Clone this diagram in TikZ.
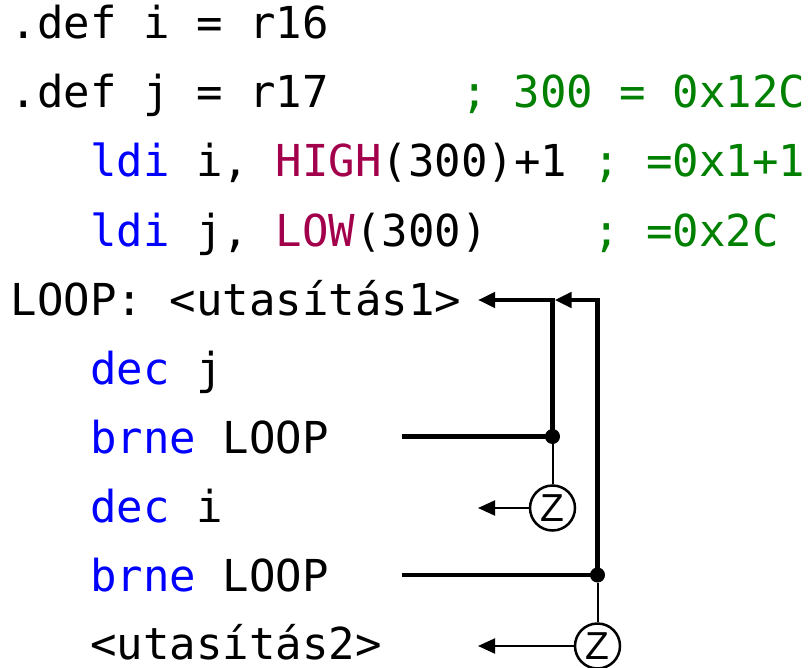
\documentclass[tikz,border=0pt]{standalone}
\usepackage{fontspec}
\setmonofont{DejaVu Sans Mono}
\newfontfamily\zfont{Liberation Sans}
\usetikzlibrary{arrows.meta}
\definecolor{kwblue}{RGB}{0,0,255}
\definecolor{fnred}{RGB}{163,0,76}
\definecolor{cmgreen}{RGB}{0,128,0}
\newcommand{\kw}[1]{\textcolor{kwblue}{#1}}
\newcommand{\fn}[1]{\textcolor{fnred}{#1}}
\begin{document}
\begin{tikzpicture}[x=1pt,y=-1pt,line join=miter,>={Triangle[length=17pt,width=15pt]}]
			\tikzset{code/.style={anchor=base west,inner sep=0pt,font=\fontsize{44}{44}\selectfont\ttfamily\frenchspacing},
				cmt/.style={code,text=cmgreen},
				loopline/.style={line width=4.2pt},
				zline/.style={line width=2pt},
				zflag/.style={circle,draw,line width=2.5pt,minimum size=45pt,inner sep=0pt,font=\fontsize{39}{39}\selectfont\zfont},
				jdot/.style={circle,fill,minimum size=15pt,inner sep=0pt}}
			\useasboundingbox (0,0) rectangle (810,668);
			% code lines
			\node[code] (def1) at (10.5,39) {.def i = r16};
			\node[code] (def2) at (10.5,108) {.def j = r17};
			\node[cmt] (cm2) at (460.8,108) {; 300 = 0x12C};
			\node[code] (ldi1) at (90,177) {\kw{ldi} i, \fn{HIGH}(300)+1};
			\node[cmt] (cm3) at (593.3,177) {; =0x1+1};
			\node[code] (ldi2) at (90,246) {\kw{ldi} j, \fn{LOW}(300)};
			\node[cmt] (cm4) at (593.3,246) {; =0x2C};
			\node[code] (loop) at (10.5,315) {LOOP: <utasítás1>};
			\node[code] (decj) at (90,384) {\kw{dec} j};
			\node[code] (brj) at (90,453) {\kw{brne} LOOP};
			\node[code] (deci) at (90,522) {\kw{dec} i};
			\node[code] (bri) at (90,591) {\kw{brne} LOOP};
			\node[code,text depth=0pt] (ut2) at (90,659) {<utasítás2>};
			% jumps
			\coordinate (s1) at (402,436.5);
			\coordinate (s2) at (402,575);
			\coordinate (t1) at (478,300);
			\coordinate (t2) at (478,509);
			\coordinate (t3) at (478,647);
			\node[jdot] (j1) at (552.5,436.5) {};
			\node[jdot] (j2) at (597.5,575) {};
			\node[zflag] (z1) at (552.5,508) {Z};
			\node[zflag] (z2) at (597.5,646) {Z};
			\draw[loopline] (s1)--(j1.center);
			\draw[loopline,->] (j1.center)--(j1.center |- t1)--(t1);
			\draw[loopline] (s2)--(j2.center);
			\draw[loopline,->] (j2.center)--(j2.center |- t1)--([xshift=2.1pt]j1.center |- t1);
			\draw[zline] (j1)--(z1) (j2)--(z2);
			\draw[zline,->] (z1)--(z1 -| t2);
			\draw[zline,->] (z2)--(z2 -| t3);
\end{tikzpicture}
\end{document}
